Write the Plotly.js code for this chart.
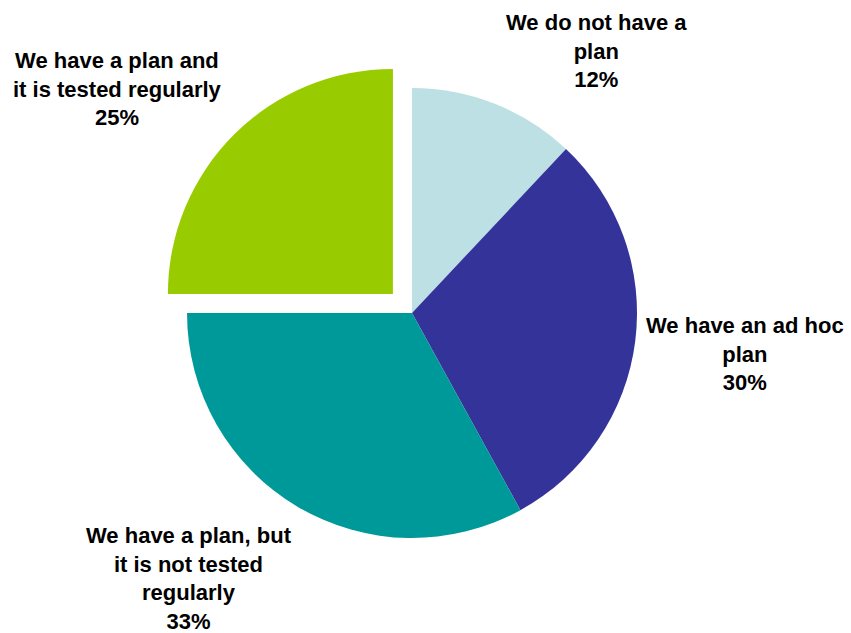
<!DOCTYPE html>
<html>
<head>
<meta charset="utf-8">
<script src="https://cdn.plot.ly/plotly-3.0.1.min.js"></script>
<style>html,body{margin:0;padding:0;background:#fff}#chart{width:851px;height:633px}</style>
</head>
<body>
<div id="chart"></div>
<script>
const labels = ["We do not have a<br>plan", "We have an ad hoc<br>plan", "We have a plan, but<br>it is not tested<br>regularly", "We have a plan and<br>it is tested regularly"];
const values = [12, 30, 33, 25];
const colors = ["#BCE0E3", "#333399", "#009999", "#99CC00"];
const pulls = [0, 0, 0, 0.12];
// label block centres in paper fractions
const labelX = [596/851, 745/851, 189/851, 117/851];
const labelY = [1-51/633, 1-354/633, 1-578/633, 1-89/633];

const total = values.reduce((a,b)=>a+b,0);
const annotations = labels.map((l,i)=>({
  text: l + "<br>" + Math.round(values[i]/total*100) + "%",
  x: labelX[i], y: labelY[i], xref: "paper", yref: "paper",
  xanchor: "center", yanchor: "middle", showarrow: false, align: "center",
  font: {family: "Liberation Sans, Arial, sans-serif", size: 22, color: "#000", weight: "bold"}
}));

const R = 225*(1+0.12);
const cx = 412, cy = 313;
Plotly.newPlot("chart", [{
  type: "pie",
  labels: labels, values: values,
  marker: {colors: colors, line: {width: 0}},
  pull: pulls,
  sort: false, direction: "clockwise", rotation: 0,
  textinfo: "none", hoverinfo: "none",
  domain: {x: [(cx-R)/851, (cx+R)/851], y: [1-(cy+R)/633, 1-(cy-R)/633]}
}], {
  width: 851, height: 633,
  margin: {l:0, r:0, t:0, b:0},
  showlegend: false,
  paper_bgcolor: "#fff",
  annotations: annotations
}, {displayModeBar: false, staticPlot: true});
</script>
</body>
</html>
